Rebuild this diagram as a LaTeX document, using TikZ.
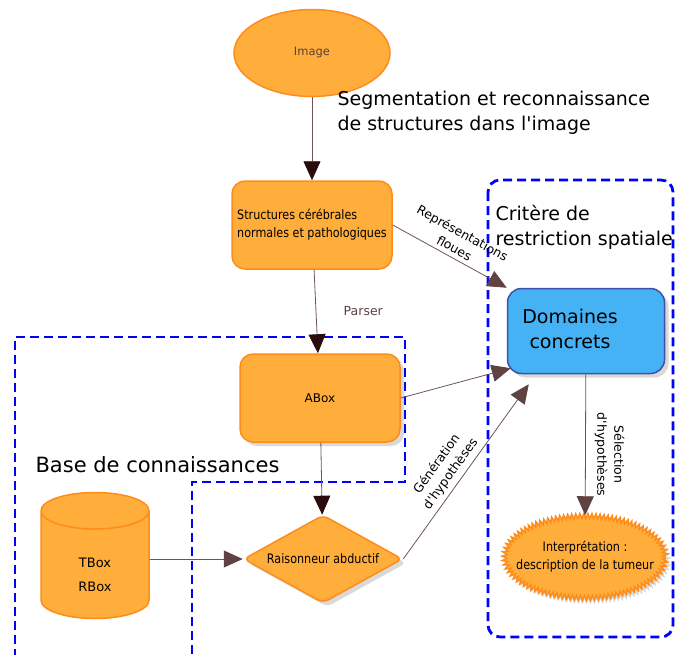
\documentclass[tikz,border=0pt]{standalone}
\usepackage{fontspec}
\setmainfont[Ligatures=TeXOff]{DejaVu Sans}
\newfontfamily\condfont[FakeStretch=0.86,Ligatures=TeXOff]{DejaVu Sans}
\usetikzlibrary{arrows.meta}
\usetikzlibrary{shapes.geometric}
\usetikzlibrary{shadows}
\usetikzlibrary{decorations.pathmorphing}

\definecolor{orfill}{RGB}{255,173,59}
\definecolor{ordraw}{RGB}{255,140,26}
\definecolor{blfill}{RGB}{69,178,245}
\definecolor{bldraw}{RGB}{63,80,170}
\definecolor{linkc}{RGB}{112,84,84}
\definecolor{headdark}{RGB}{42,12,12}
\definecolor{headbrown}{RGB}{96,66,66}
\definecolor{labc}{RGB}{90,64,64}

\tikzset{
 orshape/.style={fill=orfill, draw=ordraw, line width=1.5pt, inner sep=0pt},
 orbox/.style={orshape, rectangle, rounded corners=13pt, minimum width=160pt, minimum height=88pt},
 smalltext/.style={font=\condfont\fontsize{13}{18}\selectfont},
 bigtext/.style={font=\fontsize{19}{25}\selectfont},
 labeltext/.style={font=\fontsize{12.5}{17}\selectfont, align=center},
 shade/.style={drop shadow={opacity=0.3, shadow xshift=4pt, shadow yshift=-4pt}},
 zone/.style={draw=blue, line width=2.8pt, dash pattern=on 9pt off 5pt},
 link/.style={draw=linkc, line width=0.8pt, ->, >={Triangle[width=17pt,length=19pt,color=headbrown]}},
 linkd/.style={link, >={Triangle[width=17pt,length=19pt,color=headdark]}}
}

\begin{document}
\begin{tikzpicture}[x=1pt, y=-1pt]
\useasboundingbox (0,0) rectangle (675,654);

% zones
\draw[zone] (15,658) -- (15,337) -- (405,337) -- (405,482) -- (192,482) -- (192,658);
\draw[zone, rounded corners=12pt] (488,180) rectangle (673,637);

% nodes
\node[orshape, ellipse, minimum width=156pt, minimum height=87pt, text=labc, font=\fontsize{11.5}{14}\selectfont] (img) at (312,53) {Image};
\node[orbox, smalltext, align=left] (struct) at (312,225) {Structures cérébrales\\normales et pathologiques};
\node[orbox, shade, font=\fontsize{12}{14}\selectfont] (abox) at (320,398) {ABox};
\node[orshape, cylinder, shape border rotate=90, aspect=1.1, minimum height=126pt, minimum width=108pt, align=center, font=\fontsize{13}{16}\selectfont] (kb) at (95,565) {\vphantom{T}\\[3pt]TBox\\[8pt]RBox};
\node[orshape, diamond, rounded corners=6pt, aspect=1.8, minimum width=159pt, minimum height=88pt, shade, smalltext] (rais) at (323,559) {Raisonneur abductif};
\node[rectangle, rounded corners=14pt, fill=blfill, draw=bldraw, line width=1.5pt, minimum width=157pt, minimum height=85pt, shade, bigtext] (dom) at (586,331) {\kern-16pt\begin{tabular}{@{}c@{}}Domaines\\concrets\end{tabular}\kern16pt};
\node[orshape, ellipse, inner xsep=-12pt, inner ysep=-2pt, minimum width=150pt, minimum height=82pt, shade, smalltext, align=center, decorate, decoration={zigzag, segment length=4pt, amplitude=2.5pt}] (interp) at (585,557) {Interprétation :\\description de la tumeur};

% titles
\node[anchor=north west, align=left, bigtext] (seg) at (334,88) {Segmentation et reconnaissance\\de structures dans l'image};
\node[anchor=north west, align=left, bigtext] (crit) at (492,202) {Critère de\\restriction spatiale};
\node[anchor=west, font=\fontsize{21}{25}\selectfont] (base) at (32,465) {Base de connaissances};

% links
\draw[linkd] (img) -- (struct);
\draw[linkd] (struct) -- node[right=24pt, text=labc, labeltext]{Parser} (abox);
\draw[linkd] (abox) -- (rais);
\draw[link] (kb.east |- rais.west) -- (rais.west);
\draw[link] (struct.east) -- node[sloped, above=1pt, labeltext]{Représentations\\floues} (dom.north west);
\draw[link] (abox.east) -- ([xshift=4pt,yshift=6pt]dom.south west);
\draw[link] (rais.east) -- node[pos=0.45, sloped, above=1pt, labeltext]{Génération\\d'hypothèses} ([xshift=22pt,yshift=-10pt]dom.south west);
\draw[link] (dom) -- node[pos=0.57, rotate=-90, anchor=south, inner sep=9pt, labeltext]{Sélection\\d'hypothèses} (interp);
\end{tikzpicture}
\end{document}
